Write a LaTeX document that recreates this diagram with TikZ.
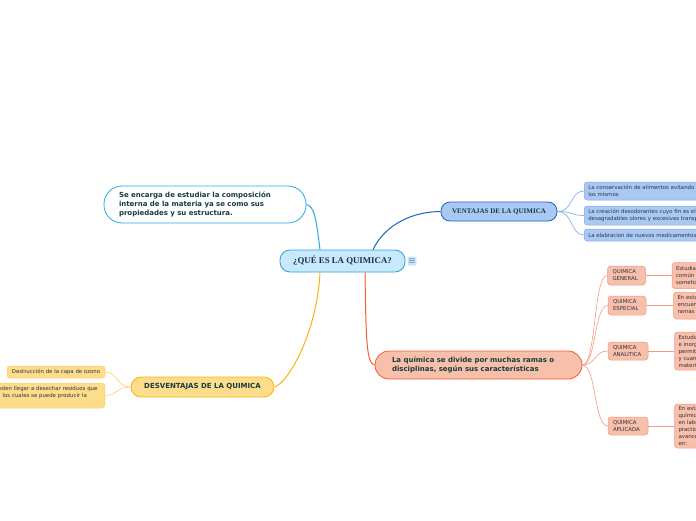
\documentclass[tikz,border=0pt]{standalone}
\usepackage{fontspec}
\setmainfont{DejaVu Sans}
\newfontfamily\titlefont{Liberation Serif}
\usetikzlibrary{positioning}

\definecolor{hubfill}{HTML}{C6EAFB}
\definecolor{hubline}{HTML}{3B98D6}
\definecolor{hubtext}{HTML}{1C2B55}
\definecolor{cyanline}{HTML}{2AA9E6}
\definecolor{venfill}{HTML}{A9C9F5}
\definecolor{venline}{HTML}{1F5FC8}
\definecolor{venleaf}{HTML}{7DA8EA}
\definecolor{desfill}{HTML}{FDDC8C}
\definecolor{desline}{HTML}{F7B50F}
\definecolor{desleaf}{HTML}{FAD06E}
\definecolor{divfill}{HTML}{F8BFAB}
\definecolor{divline}{HTML}{F05E30}
\definecolor{divleaf}{HTML}{F39A80}
\definecolor{inkteal}{HTML}{173C3C}
\definecolor{inkgray}{HTML}{2F3440}

\begin{document}
\begin{tikzpicture}[x=1pt, y=-1pt,
  mapnode/.style={draw, line width=0.8pt, inner sep=0pt, text=inkteal},
  leafbox/.style={draw, line width=0.5pt, inner sep=0pt, rounded corners=3pt,
    align=left, text=inkgray, font=\fontsize{5.4}{7}\selectfont},
  link/.style={line width=1pt},
  twig/.style={line width=0.6pt}]
  \useasboundingbox (0,0) rectangle (696,520);
  \clip (0,0) rectangle (696,520);
  % centre
  \node[mapnode, fill=hubfill, draw=hubline, rounded corners=10pt,
    minimum width=125pt, minimum height=22pt, text=hubtext,
    font=\titlefont\bfseries\fontsize{8.8}{10}\selectfont] (quimica) at (342.5,261) {¿QUÉ ES LA QUIMICA?};
  \node[fill=hubfill, rounded corners=1pt, minimum size=9pt, inner sep=0pt,
    text=hubtext, font=\fontsize{9}{9}\selectfont] (menu) at (412,261) {$\equiv$};
  % definition
  \node[mapnode, fill=white, draw=cyanline, rounded corners=18pt,
    minimum width=202pt, minimum height=37pt, text width=172pt, align=left,
    font=\bfseries\fontsize{7}{9}\selectfont] (estudio) at (205,204.5)
    {Se encarga de estudiar la composición\\ interna de la materia ya se como sus\\ propiedades y su estructura.};
  % ventajas
  \node[mapnode, fill=venfill, draw=venline, rounded corners=9pt,
    minimum width=116pt, minimum height=19pt,
    font=\titlefont\bfseries\fontsize{7}{8}\selectfont] (ventajas) at (499,211.5) {VENTAJAS DE LA QUIMICA};
  \node[leafbox, fill=venfill, draw=venleaf, anchor=west, minimum width=190pt,
    text width=182pt, minimum height=18pt] (v1) at (584,191)
    {La conservación de alimentos evitando la\\ los mismos};
  \node[leafbox, fill=venfill, draw=venleaf, anchor=west, minimum width=190pt,
    text width=182pt, minimum height=19pt] (v2) at (584,215.5)
    {La creación desodorantes cuyo fin es el\\ desagradables olores y excesivas transpiraciones};
  \node[leafbox, fill=venfill, draw=venleaf, anchor=west, minimum width=190pt,
    text width=182pt, minimum height=12pt] (v3) at (584,235)
    {La elabracion de nuevos medicamentos};
  % desventajas
  \node[mapnode, fill=desfill, draw=desline, rounded corners=10pt,
    minimum width=143pt, minimum height=20pt,
    font=\bfseries\fontsize{7}{9}\selectfont] (desventajas) at (202.5,387) {DESVENTAJAS DE LA QUIMICA};
  \node[leafbox, fill=desfill, draw=desleaf, align=center, minimum width=98pt,
    minimum height=12pt] (d1) at (56,372) {Destrucción de la capa de ozono};
  \node[leafbox, fill=desfill, draw=desleaf, align=center, anchor=east,
    minimum width=120pt, text width=120pt, minimum height=25pt] (d2) at (105,395.5)
    {Pueden llegar a desechar residuos que\\ los cuales se puede producir la\\ ~};
  % ramas
  \node[mapnode, fill=divfill, draw=divline, rounded corners=14pt,
    minimum width=207pt, minimum height=28pt, text width=173pt, align=left,
    font=\bfseries\fontsize{7}{9}\selectfont] (ramas) at (478.5,365)
    {La química se divide por muchas ramas o\\ disciplinas, según sus características};
  \node[leafbox, fill=divfill, draw=divleaf, minimum width=38pt, text width=28pt,
    minimum height=19pt, font=\fontsize{5.4}{7}\selectfont] (general) at (626.5,275.5) {QUIMICA\\ GENERAL};
  \node[leafbox, fill=divfill, draw=divleaf, minimum width=38pt, text width=28pt,
    minimum height=19pt, font=\fontsize{5.4}{7}\selectfont] (especial) at (627,305.5) {QUIMICA\\ ESPECIAL};
  \node[leafbox, fill=divfill, draw=divleaf, minimum width=40pt, text width=30pt,
    minimum height=18pt, font=\fontsize{5.4}{7}\selectfont] (analitica) at (628,351) {QUIMICA\\ ANALITICA};
  \node[leafbox, fill=divfill, draw=divleaf, minimum width=40pt, text width=30pt,
    minimum height=18pt, font=\fontsize{5.4}{7}\selectfont] (aplicada) at (628,426) {QUIMICA\\ APLICADA};
  \node[leafbox, fill=divfill, draw=divleaf, right=26pt of general, minimum width=80pt,
    text width=72pt, minimum height=26pt] (g1)
    {Estudia las propiedades\\ común de los cuerpos\\ sometidos a cambios};
  \node[leafbox, fill=divfill, draw=divleaf, right=27pt of especial, minimum width=80pt,
    text width=72pt, minimum height=27pt] (g2)
    {En esta se\\ encuentran las\\ ramas de la química};
  \node[leafbox, fill=divfill, draw=divleaf, right=26pt of analitica, minimum width=80pt,
    text width=72pt, minimum height=38pt] (g3)
    {Estudia los compuestos\\ e inorgánicos que\\ permiten conocer\\ y cuantificar la\\ materia};
  \node[leafbox, fill=divfill, draw=divleaf, right=26pt of aplicada, minimum width=80pt,
    text width=72pt, minimum height=44pt] (g4)
    {En esta rama la\\ química se aplica\\ en laboratorios\\ practicos para\\ avances\\ en:};
  % main branches
  \draw[link, cyanline] ([xshift=-22.5pt]quimica.north) .. controls +(-4,-32) and +(8,2) .. (estudio.east);
  \draw[link, venline] ([xshift=30.5pt]quimica.north) .. controls +(12,-25) and +(-28,0) .. (ventajas.west);
  \draw[link, desline] ([xshift=-22.5pt]quimica.south) .. controls +(-3,60) and +(14,-4) .. (desventajas.east);
  \draw[link, divline] ([xshift=22.5pt]quimica.south) .. controls +(1,70) and +(-8,-2) .. (ramas.west);
  % leaves
  \foreach \leaf in {v1,v2,v3}
    \draw[twig, venleaf] (ventajas.east) .. controls +(16,0) and +(-14,0) .. (\leaf.west);
  \foreach \leaf in {d1,d2}
    \draw[twig, desleaf] (desventajas.west) .. controls +(-14,0) and +(12,0) .. (\leaf.east);
  \foreach \leaf in {general,especial,analitica,aplicada}
    \draw[twig, divleaf] (ramas.east) .. controls +(14,0) and +(-14,0) .. (\leaf.west);
  \draw[twig, divleaf] (general) -- (g1);
  \draw[twig, divleaf] (especial) -- (g2);
  \draw[twig, divleaf] (analitica) -- (g3);
  \draw[twig, divleaf] (aplicada) -- (g4);
\end{tikzpicture}
\end{document}
